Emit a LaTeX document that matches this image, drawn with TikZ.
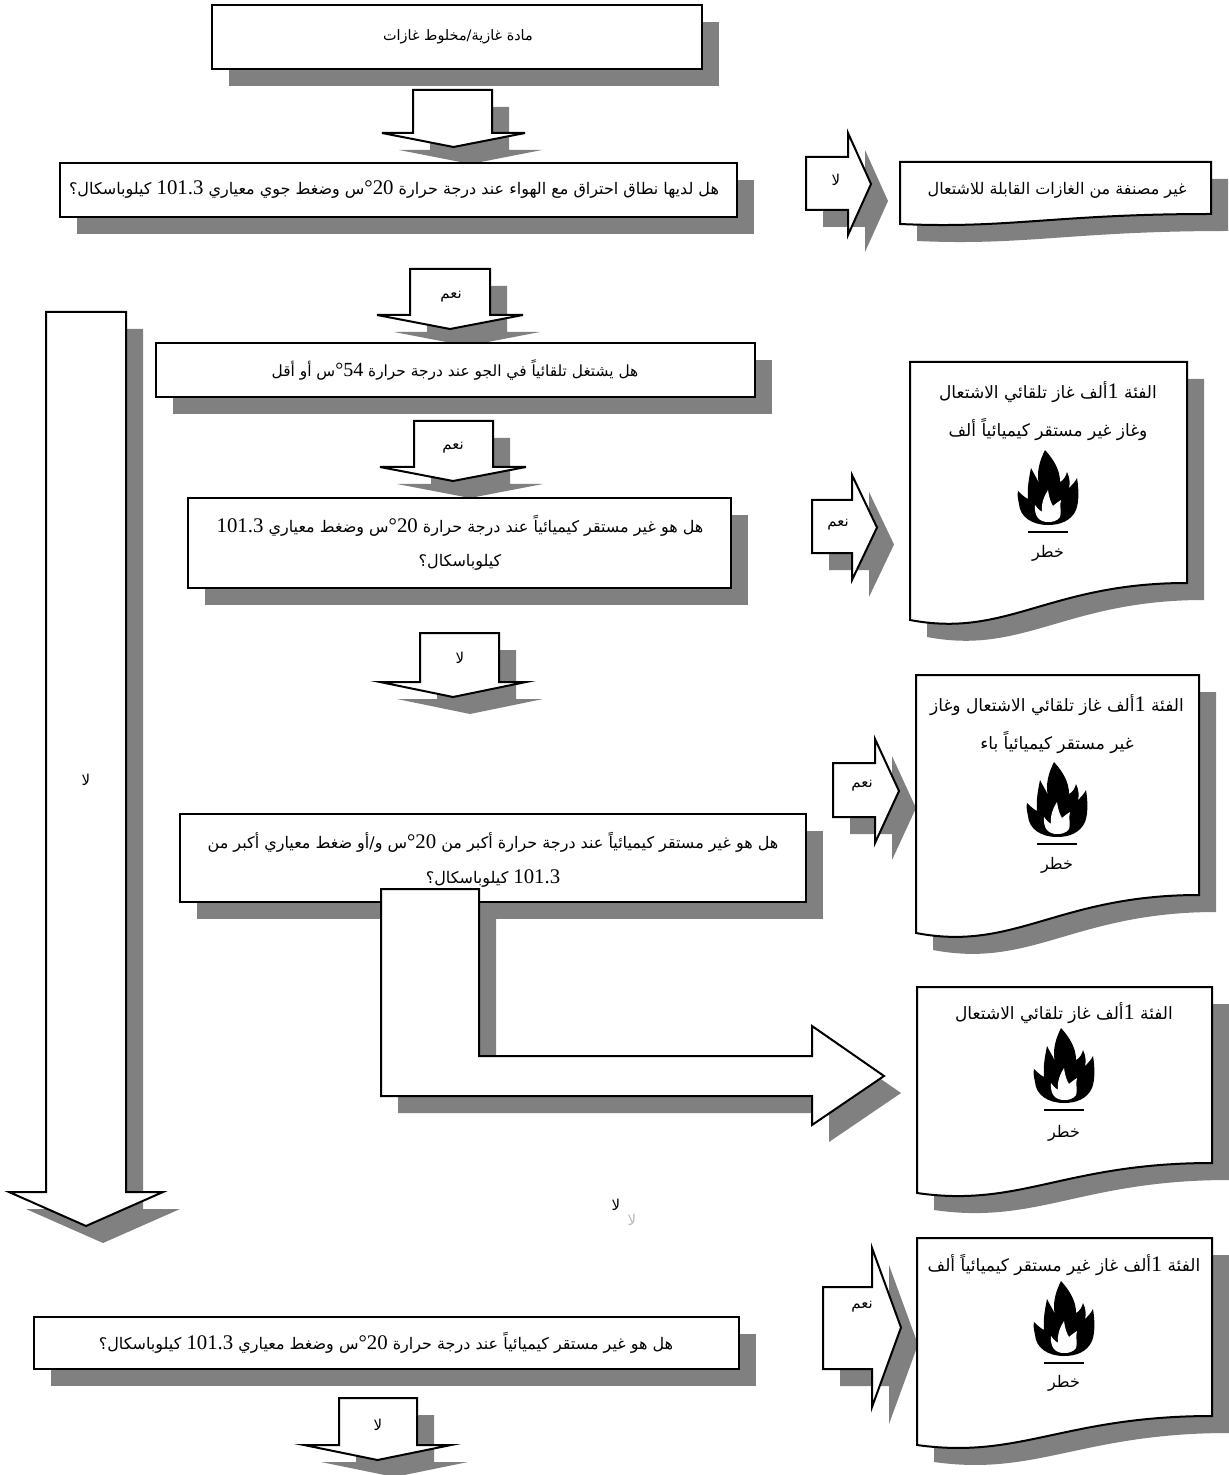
\documentclass[tikz,border=0pt]{standalone}
\usepackage{fontspec}
\newfontfamily\arabicfont[Script=Arabic]{DejaVu Sans}
\newfontfamily\numfont[Scale=1.3]{Liberation Serif}
\TeXXeTstate=1
\definecolor{shadowgray}{gray}{0.5}
\def\dg#1{\beginL{\numfont #1}\endL{}}
\def\dgc#1{\beginL{\numfont °#1}\endL{}}
\tikzset{
  flowshape/.style={draw=black, line width=1pt, fill=white,
    preaction={fill=shadowgray, transform canvas={shift={(8.5pt,-8.5pt)}}}},
  flowtext/.style={font=\arabicfont\fontsize{8}{17}\selectfont, align=center, inner sep=0pt},
  armark/.style={font=\arabicfont\fontsize{7.5}{8}\selectfont, inner sep=0pt},
}
\def\downblock(#1,#2,#3,#4,#5,#6,#7){%
  \draw[flowshape] (#1,#3) -- (#2,#3) -- (#2,#4) -- (#6,#4) -- ({(#5+#6)/2},#7) -- (#5,#4) -- (#1,#4) -- cycle;}
\def\rightblock(#1,#2,#3,#4,#5,#6,#7){%
  \draw[flowshape] (#1,#2) -- (#4,#2) -- (#4,#5) -- (#7,{(#5+#6)/2}) -- (#4,#6) -- (#4,#3) -- (#1,#3) -- cycle;}
\def\docblock(#1,#2,#3,#4,#5){%
  \draw[flowshape] (#1,#2) -- (#3,#2) -- (#3,#4) .. controls ({#1+0.5*(#3-#1)},#4) and ({#1+0.35*(#3-#1)},{#4+1.5*(#5-#4)}) .. (#1,#5) -- cycle;}
\def\flame(#1,#2){%
  \begin{scope}[shift={(#1,#2)}]
    \fill (0,-7) .. controls (-16,-7) and (-28,-15) .. (-29,-28)
      .. controls (-30,-33) and (-31,-37) .. (-30,-41)
      .. controls (-25,-36) and (-22,-34) .. (-20,-33)
      .. controls (-21,-44) and (-19,-54) .. (-17,-64)
      .. controls (-13,-56) and (-10,-52) .. (-9,-48)
      .. controls (-12,-60) and (-8,-72) .. (-3,-82)
      .. controls (6,-72) and (12,-62) .. (12,-50)
      .. controls (16,-52) and (18,-56) .. (19,-60)
      .. controls (22,-54) and (22,-48) .. (21,-44)
      .. controls (24,-47) and (27,-50) .. (29,-54)
      .. controls (31,-42) and (31,-30) .. (28,-22)
      .. controls (23,-11) and (12,-7) .. (0,-7) -- cycle;
    \fill[white] (0,-10) .. controls (-9,-10) and (-14,-16) .. (-13,-27)
      .. controls (-10,-23) and (-8,-21) .. (-6,-20)
      .. controls (-7,-28) and (-4,-36) .. (0,-42)
      .. controls (1,-34) and (3,-29) .. (5,-26)
      .. controls (7,-28) and (10,-30) .. (13,-32)
      .. controls (11,-26) and (14,-20) .. (12,-15)
      .. controls (9,-11) and (5,-10) .. (0,-10) -- cycle;
    \fill (-20,-1) rectangle (20,1);
  \end{scope}}

\begin{document}
\begin{tikzpicture}[x=0.5pt,y=-0.5pt]
  \useasboundingbox (0,0) rectangle (1229,1475);

  % start
  \draw[flowshape] (212,5) rectangle (702,69);
  \node[flowtext, font=\arabicfont\fontsize{7.2}{9}\selectfont] (gas) at (458,37) {\beginR مادة غازية/مخلوط غازات\endR};
  \downblock(413,492,90,133,382,525,147)

  % question 1
  \draw[flowshape] (60,163) rectangle (737,217);
  \node[flowtext] (q1) at (394,190) {\beginR هل لديها نطاق احتراق مع الهواء عند درجة حرارة \dgc{20}س وضغط جوي معياري \dg{101.3} كيلوباسكال؟\endR};
  \rightblock(806,157,210,848,133,235,871)
  \node[armark] (no1) at (836,180) {\beginR لا\endR};
  \docblock(900,162,1211,214,224)
  \node[flowtext] (nocls) at (1057,190) {\beginR غير مصنفة من الغازات القابلة للاشتعال\endR};

  \downblock(410,490,269,315,377,523,329)
  \node[armark] (yes1) at (451,297) {\beginR نعم\endR};

  % long no arrow
  \downblock(46,126,312,1192,9,163,1226)
  \node[armark] (no2) at (86,780) {\beginR لا\endR};

  % question 2
  \draw[flowshape] (156,343) rectangle (755,397);
  \node[flowtext, font=\arabicfont\fontsize{7.7}{9}\selectfont] (q2) at (455,370) {\beginR هل يشتغل تلقائياً في الجو عند درجة حرارة \dgc{54}س أو أقل\endR};
  \downblock(414,493,421,467,380,526,481)
  \node[armark] (yes2) at (453,448) {\beginR نعم\endR};

  % question 3
  \draw[flowshape] (188,498) rectangle (731,588);
  \node[flowtext] (q3) at (460,543) {\beginR هل هو غير مستقر كيميائياً عند درجة حرارة \dgc{20}س وضغط معياري \dg{101.3}\endR\\\beginR كيلوباسكال؟\endR};
  \rightblock(812,500,553,852,475,580,877)
  \node[armark] (yes3) at (838,525) {\beginR نعم\endR};
  \docblock(910,362,1187,583,620)
  \node[flowtext, font=\arabicfont\fontsize{8.5}{19}\selectfont] (cat1a) at (1048,411) {\beginR الفئة \dg{1}ألف غاز تلقائي الاشتعال\endR\\\beginR وغاز غير مستقر كيميائياً ألف\endR};
  \flame(1048,532)
  \node[flowtext] (haz1) at (1048,553) {\beginR خطر\endR};

  \downblock(420,499,633,682,380,526,697)
  \node[armark] (no3) at (460,658) {\beginR لا\endR};

  % question 4
  \rightblock(833,763,817,875,739,843,899)
  \node[armark] (yes4) at (862,786) {\beginR نعم\endR};
  \docblock(916,675,1199,895,933)
  \node[flowtext, font=\arabicfont\fontsize{8.5}{19}\selectfont] (cat1b) at (1057,724) {\beginR الفئة \dg{1}ألف غاز تلقائي الاشتعال وغاز\endR\\\beginR غير مستقر كيميائياً باء\endR};
  \flame(1057,844)
  \node[flowtext] (haz2) at (1057,865) {\beginR خطر\endR};

  \draw[flowshape] (180,814) rectangle (806,902);
  \draw[flowshape] (381,889) -- (479,889) -- (479,1056) -- (812,1056) -- (812,1026)
    -- (884,1076) -- (812,1125) -- (812,1096) -- (381,1096) -- cycle;
  \node[flowtext, font=\arabicfont\fontsize{8}{17.5}\selectfont] (q4) at (493,860) {\beginR هل هو غير مستقر كيميائياً عند درجة حرارة أكبر من \dgc{20}س و/أو ضغط معياري أكبر من\endR\\\beginR \dg{101.3} كيلوباسكال؟\endR};
  \docblock(917,987,1212,1163,1193)
  \node[flowtext, font=\arabicfont\fontsize{8.5}{19}\selectfont] (cat1p) at (1064,1013) {\beginR الفئة \dg{1}ألف غاز تلقائي الاشتعال\endR};
  \flame(1064,1110)
  \node[flowtext] (haz3) at (1064,1133) {\beginR خطر\endR};

  \node[armark] (no4) at (616,1205) {\beginR لا\endR};
  \node[armark, text=gray!55] (no5) at (632,1220) {\beginR لا\endR};

  % question 5
  \draw[flowshape] (34,1317) rectangle (739,1369);
  \node[flowtext] (q5) at (386,1343) {\beginR هل هو غير مستقر كيميائياً عند درجة حرارة \dgc{20}س وضغط معياري \dg{101.3} كيلوباسكال؟\endR};
  \downblock(339,417,1398,1445,304,451,1460)
  \node[armark] (no6) at (378,1425) {\beginR لا\endR};
  \rightblock(823,1287,1369,872,1248,1407,901)
  \node[armark] (yes5) at (862,1307) {\beginR نعم\endR};
  \docblock(917,1238,1212,1416,1445)
  \node[flowtext, font=\arabicfont\fontsize{8.5}{19}\selectfont] (cat1u) at (1064,1265) {\beginR الفئة \dg{1}ألف غاز غير مستقر كيميائياً ألف\endR};
  \flame(1064,1363)
  \node[flowtext] (haz4) at (1064,1383) {\beginR خطر\endR};
\end{tikzpicture}
\end{document}
